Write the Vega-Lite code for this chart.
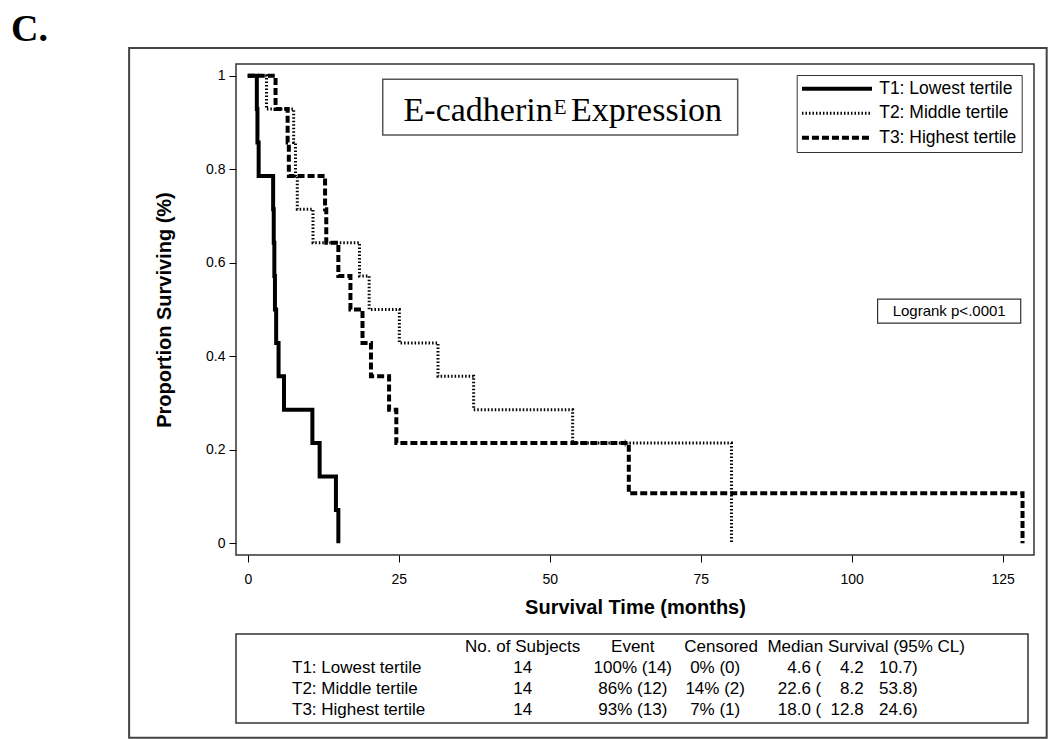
{
  "$schema": "https://vega.github.io/schema/vega-lite/v6.json",
  "autosize": {"type": "pad"},
  "padding": 0,
  "background": "white",
  "spacing": 79,
  "bounds": "flush",
  "config": {
    "font": "Liberation Sans",
    "view": {"stroke": "#333333", "strokeWidth": 1.5},
    "axis": {"domain": false, "grid": false, "tickColor": "#000000", "labelColor": "#000000", "titleColor": "#000000", "labelFont": "Liberation Sans", "titleFont": "Liberation Sans"},
    "text": {"color": "#000000"}
  },
  "datasets": {
    "km": [
      {"group": "T1: Lowest tertile", "time": 0, "surv": 1},
      {"group": "T1: Lowest tertile", "time": 1.5, "surv": 0.9286},
      {"group": "T1: Lowest tertile", "time": 1.6, "surv": 0.8571},
      {"group": "T1: Lowest tertile", "time": 1.8, "surv": 0.7857},
      {"group": "T1: Lowest tertile", "time": 4.2, "surv": 0.7143},
      {"group": "T1: Lowest tertile", "time": 4.3, "surv": 0.6429},
      {"group": "T1: Lowest tertile", "time": 4.4, "surv": 0.5714},
      {"group": "T1: Lowest tertile", "time": 4.5, "surv": 0.5},
      {"group": "T1: Lowest tertile", "time": 4.7, "surv": 0.4286},
      {"group": "T1: Lowest tertile", "time": 5.1, "surv": 0.3571},
      {"group": "T1: Lowest tertile", "time": 6.0, "surv": 0.2857},
      {"group": "T1: Lowest tertile", "time": 10.7, "surv": 0.2143},
      {"group": "T1: Lowest tertile", "time": 11.9, "surv": 0.1429},
      {"group": "T1: Lowest tertile", "time": 14.6, "surv": 0.0714},
      {"group": "T1: Lowest tertile", "time": 15.0, "surv": 0},
      {"group": "T2: Middle tertile", "time": 0, "surv": 1},
      {"group": "T2: Middle tertile", "time": 3.1, "surv": 0.9286},
      {"group": "T2: Middle tertile", "time": 7.6, "surv": 0.8571},
      {"group": "T2: Middle tertile", "time": 7.9, "surv": 0.7857},
      {"group": "T2: Middle tertile", "time": 8.2, "surv": 0.7143},
      {"group": "T2: Middle tertile", "time": 10.8, "surv": 0.6429},
      {"group": "T2: Middle tertile", "time": 18.5, "surv": 0.5714},
      {"group": "T2: Middle tertile", "time": 20.1, "surv": 0.5},
      {"group": "T2: Middle tertile", "time": 25.1, "surv": 0.4286},
      {"group": "T2: Middle tertile", "time": 31.5, "surv": 0.3571},
      {"group": "T2: Middle tertile", "time": 37.4, "surv": 0.2857},
      {"group": "T2: Middle tertile", "time": 53.8, "surv": 0.2143},
      {"group": "T2: Middle tertile", "time": 80.1, "surv": 0},
      {"group": "T3: Highest tertile", "time": 0, "surv": 1},
      {"group": "T3: Highest tertile", "time": 4.6, "surv": 0.9286},
      {"group": "T3: Highest tertile", "time": 6.6, "surv": 0.8571},
      {"group": "T3: Highest tertile", "time": 6.8, "surv": 0.7857},
      {"group": "T3: Highest tertile", "time": 12.8, "surv": 0.7143},
      {"group": "T3: Highest tertile", "time": 13.0, "surv": 0.6429},
      {"group": "T3: Highest tertile", "time": 15.0, "surv": 0.5714},
      {"group": "T3: Highest tertile", "time": 17.0, "surv": 0.5},
      {"group": "T3: Highest tertile", "time": 19.0, "surv": 0.4286},
      {"group": "T3: Highest tertile", "time": 20.4, "surv": 0.3571},
      {"group": "T3: Highest tertile", "time": 23.4, "surv": 0.2857},
      {"group": "T3: Highest tertile", "time": 24.6, "surv": 0.2143},
      {"group": "T3: Highest tertile", "time": 63.1, "surv": 0.1071},
      {"group": "T3: Highest tertile", "time": 128.3, "surv": 0}
    ],
    "censor": [
      {"group": "T3: Highest tertile", "time": 62.5, "surv": 0.2143}
    ],
    "tbl": [
      {"row": "h", "label": "", "subjects": "No. of Subjects", "event": "Event", "censored": "Censored", "median": "Median Survival (95% CL)", "medA": "", "medB": "", "medC": ""},
      {"row": "T1", "label": "T1: Lowest tertile", "subjects": "14", "event": "100% (14)", "censored": "0% (0)", "median": "", "medA": "4.6 (", "medB": "4.2", "medC": "10.7)"},
      {"row": "T2", "label": "T2: Middle tertile", "subjects": "14", "event": "86% (12)", "censored": "14% (2)", "median": "", "medA": "22.6 (", "medB": "8.2", "medC": "53.8)"},
      {"row": "T3", "label": "T3: Highest tertile", "subjects": "14", "event": "93% (13)", "censored": "7% (1)", "median": "", "medA": "18.0 (", "medB": "12.8", "medC": "24.6)"}
    ]
  },
  "vconcat": [
    {
      "width": 798,
      "height": 491,
      "layer": [
        {
          "data": {"values": [{}]},
          "mark": {"type": "rect", "fill": "white", "fillOpacity": 0, "strokeOpacity": 0, "clip": false},
          "encoding": {
            "x": {"datum": -40.86, "type": "quantitative"},
            "x2": {"datum": 132.98},
            "y": {"datum": 1.1597, "type": "quantitative"},
            "y2": {"datum": -0.4207}
          }
        },
        {
          "data": {"values": [{}]},
          "mark": {"type": "rect", "filled": false, "stroke": "#444444", "strokeWidth": 2, "clip": false},
          "encoding": {
            "x": {"datum": -19.65, "type": "quantitative"},
            "x2": {"datum": 132.3},
            "y": {"datum": 1.059, "type": "quantitative"},
            "y2": {"datum": -0.416}
          }
        },
        {
          "data": {"values": [{}]},
          "mark": {"type": "text", "text": "C.", "font": "Liberation Serif", "fontWeight": "bold", "fontSize": 38, "align": "left", "baseline": "alphabetic", "clip": false},
          "encoding": {
            "x": {"datum": -39.2, "type": "quantitative"},
            "y": {"datum": 1.074, "type": "quantitative"}
          }
        },
        {
          "data": {"values": [{}]},
          "mark": {"type": "rect", "filled": false, "stroke": "#555555", "strokeWidth": 1.5},
          "encoding": {
            "x": {"datum": 22.35, "type": "quantitative"},
            "x2": {"datum": 81.13},
            "y": {"datum": 0.9923, "type": "quantitative"},
            "y2": {"datum": 0.8732}
          }
        },
        {
          "data": {"values": [{}]},
          "mark": {"type": "text", "text": "E-cadherin", "font": "Liberation Serif", "fontSize": 34, "align": "right", "baseline": "alphabetic"},
          "encoding": {
            "x": {"datum": 50.5, "type": "quantitative"},
            "y": {"datum": 0.9031, "type": "quantitative"}
          }
        },
        {
          "data": {"values": [{}]},
          "mark": {"type": "text", "text": "E", "font": "Liberation Serif", "fontSize": 21, "align": "left", "baseline": "alphabetic"},
          "encoding": {
            "x": {"datum": 50.65, "type": "quantitative"},
            "y": {"datum": 0.9174, "type": "quantitative"}
          }
        },
        {
          "data": {"values": [{}]},
          "mark": {"type": "text", "text": "Expression", "font": "Liberation Serif", "fontSize": 34, "align": "left", "baseline": "alphabetic"},
          "encoding": {
            "x": {"datum": 53.53, "type": "quantitative"},
            "y": {"datum": 0.9031, "type": "quantitative"}
          }
        },
        {
          "data": {"values": [{}]},
          "mark": {"type": "rect", "filled": false, "stroke": "#333333", "strokeWidth": 1.2},
          "encoding": {
            "x": {"datum": 104.3, "type": "quantitative"},
            "x2": {"datum": 128.0},
            "y": {"datum": 0.522, "type": "quantitative"},
            "y2": {"datum": 0.471}
          }
        },
        {
          "data": {"values": [{}]},
          "mark": {"type": "text", "text": "Logrank p<.0001", "fontSize": 15, "align": "center", "baseline": "middle"},
          "encoding": {
            "x": {"datum": 116.15, "type": "quantitative"},
            "y": {"datum": 0.4965, "type": "quantitative"}
          }
        },
        {
          "data": {"name": "km"},
          "mark": {"type": "line", "interpolate": "step-after", "strokeCap": "butt", "strokeJoin": "miter", "color": "#000000", "clip": false},
          "encoding": {
            "x": {
              "field": "time", "type": "quantitative",
              "scale": {"domain": [-1.95, 130.2], "nice": false, "zero": false},
              "axis": {"values": [0, 25, 50, 75, 100, 125], "title": "Survival Time (months)", "titleFontSize": 20, "titleFontWeight": "bold", "labelFontSize": 14, "tickSize": 7, "labelPadding": 10, "titlePadding": 11, "labelFlush": false}
            },
            "y": {
              "field": "surv", "type": "quantitative",
              "scale": {"domain": [-0.025, 1.025], "nice": false, "zero": false},
              "axis": {"values": [0, 0.2, 0.4, 0.6, 0.8, 1], "format": "~g", "title": "Proportion Surviving (%)", "titleFontSize": 20, "titleFontWeight": "bold", "labelFontSize": 14, "tickSize": 7, "labelPadding": 4, "titlePadding": 31, "labelFlush": false}
            },
            "detail": {"field": "group"},
            "strokeDash": {
              "field": "group", "type": "nominal",
              "scale": {"domain": ["T1: Lowest tertile", "T2: Middle tertile", "T3: Highest tertile"], "range": [[1, 0], [1.5, 2], [7, 3]]},
              "legend": {
                "title": null, "orient": "none", "legendX": 560.7, "legendY": 11,
                "strokeColor": "#333333", "fillColor": "white", "padding": 5,
                "symbolType": "M-1,0L7.24,0", "symbolSize": 289, "symbolStrokeColor": "#000000",
                "labelFontSize": 17.5, "labelFont": "Liberation Sans", "labelColor": "#000000",
                "rowPadding": 5.5, "labelOffset": 60,
                "encode": {"symbols": {"update": {"strokeWidth": {"signal": "datum.value === 'T2: Middle tertile' ? 3 : 4"}}}}
              }
            },
            "strokeWidth": {
              "condition": {"test": "datum.group === 'T2: Middle tertile'", "value": 3},
              "value": 4
            }
          }
        },
        {
          "data": {"name": "censor"},
          "mark": {"type": "point", "shape": "M-1,0L1,0M0,-1L0,1", "size": 50, "stroke": "#000000", "strokeWidth": 1, "filled": false},
          "encoding": {
            "x": {"field": "time", "type": "quantitative"},
            "y": {"field": "surv", "type": "quantitative"}
          }
        }
      ]
    },
    {
      "width": 792,
      "height": 89,
      "data": {"name": "tbl"},
      "encoding": {
        "y": {"field": "row", "type": "nominal", "scale": {"type": "point", "domain": ["h", "T1", "T2", "T3"], "padding": 0.62}, "axis": null}
      },
      "layer": [
        {
          "mark": {"type": "text", "align": "left", "fontSize": 17},
          "encoding": {
            "x": {"datum": 7.07, "type": "quantitative", "scale": {"domain": [0, 100], "nice": false, "zero": false}, "axis": null},
            "text": {"field": "label"}
          }
        },
        {
          "mark": {"type": "text", "align": "center", "fontSize": 17},
          "encoding": {
            "x": {"datum": 36.2, "type": "quantitative"},
            "text": {"field": "subjects"}
          }
        },
        {
          "mark": {"type": "text", "align": "center", "fontSize": 17},
          "encoding": {
            "x": {"datum": 50.1, "type": "quantitative"},
            "text": {"field": "event"}
          }
        },
        {
          "transform": [{"filter": "datum.row === 'h'"}],
          "mark": {"type": "text", "align": "center", "fontSize": 17},
          "encoding": {
            "x": {"datum": 61.25, "type": "quantitative"},
            "text": {"field": "censored"}
          }
        },
        {
          "transform": [{"filter": "datum.row !== 'h'"}],
          "mark": {"type": "text", "align": "center", "fontSize": 17},
          "encoding": {
            "x": {"datum": 60.5, "type": "quantitative"},
            "text": {"field": "censored"}
          }
        },
        {
          "mark": {"type": "text", "align": "center", "fontSize": 17},
          "encoding": {
            "x": {"datum": 79.57, "type": "quantitative"},
            "text": {"field": "median"}
          }
        },
        {
          "mark": {"type": "text", "align": "right", "fontSize": 17},
          "encoding": {
            "x": {"datum": 73.9, "type": "quantitative"},
            "text": {"field": "medA"}
          }
        },
        {
          "mark": {"type": "text", "align": "right", "fontSize": 17},
          "encoding": {
            "x": {"datum": 79.25, "type": "quantitative"},
            "text": {"field": "medB"}
          }
        },
        {
          "mark": {"type": "text", "align": "left", "fontSize": 17},
          "encoding": {
            "x": {"datum": 81.19, "type": "quantitative"},
            "text": {"field": "medC"}
          }
        }
      ]
    }
  ]
}
